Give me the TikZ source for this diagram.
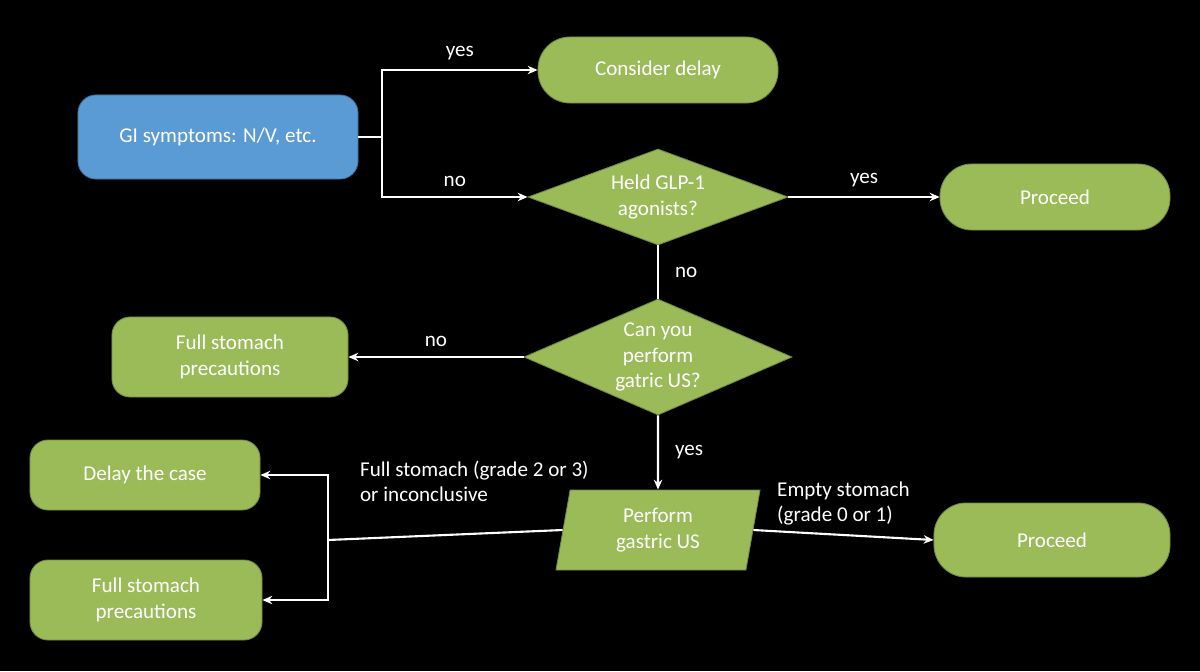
\documentclass[tikz,border=0pt]{standalone}
\usepackage{fontspec}
\setmainfont{Carlito}
\usetikzlibrary{shapes.geometric,arrows.meta,positioning}
\definecolor{leaf}{HTML}{9BBB59}
\definecolor{leafline}{HTML}{71893F}
\definecolor{sky}{HTML}{5B9BD5}
\definecolor{skyline}{HTML}{41719C}
\begin{document}
\begin{tikzpicture}[x=0.025cm,y=-0.025cm,semithick,font=\fontsize{15}{18}\selectfont]

		% Styles for the boxes
		\tikzstyle{box}=[rectangle,rounded corners=0.45cm,draw=leafline,fill=leaf,text=white,align=center,minimum width=5.9cm,minimum height=2cm]
		\tikzstyle{pill}=[box,rounded corners=0.8cm,minimum width=6cm,minimum height=1.65cm]
		\tikzstyle{question}=[diamond,aspect=2.5,inner sep=0pt,draw=leafline,fill=leaf,text=white,align=center]
		\tikzstyle{task}=[trapezium,trapezium left angle=75,trapezium right angle=105,trapezium stretches body,draw=leafline,fill=leaf,text=white,align=center,minimum width=5.1cm,minimum height=2cm]
		\tikzstyle{link}=[white,line width=1.5pt]
		\tikzstyle{go}=[link,-{Stealth[length=7pt,width=6pt]}]
		\tikzstyle{tag}=[text=white,align=left]

		% Background
		\fill[black] (0,0) rectangle (1200,671);
		\useasboundingbox (0,0) rectangle (1200,671);

		% Nodes
		\node[box,fill=sky,draw=skyline,minimum width=7cm,minimum height=2.1cm] (gi) at (218,137) {GI symptoms: N/V, etc.};
		\node[pill] (delay) at (658,70) {Consider delay};
		\node[question,minimum width=6.5cm,minimum height=2.4cm] (glp) at (658,197) {Held GLP-1\\agonists?};
		\node[pill,minimum width=5.75cm] (go1) at (1055,197) {Proceed};
		\node[question,minimum width=6.7cm,minimum height=2.9cm] (us) at (658,357) {Can you\\perform\\gatric US?};
		\node[box] (full1) at (230,357) {Full stomach\\precautions};
		\node[task] (scan) at (658,530) {Perform\\gastric US};
		\node[pill,minimum width=5.9cm,minimum height=1.85cm] (go2) at (1052,540) {Proceed};
		\node[box,minimum width=5.75cm,minimum height=1.75cm] (case) at (145,475) {Delay the case};
		\node[box,minimum width=5.8cm] (full2) at (146,600) {Full stomach\\precautions};

		\coordinate (fork) at (382,137);
		\coordinate (split) at (328,540);

		% Connectors
		\draw[link] (gi.east) -- (fork);
		\draw[go] (fork) |- (delay.west) node[tag,pos=0.75,above=3pt] {yes};
		\draw[go] (fork) |- (glp.west) node[tag,pos=0.75,above=3pt] {no};
		\draw[go] (glp.east) -- (go1.west) node[tag,midway,above=3pt] {yes};
		\draw[link] (glp.south) -- (us.north) node[tag,midway,right=8pt] {no};
		\draw[go] (us.west) -- (full1.east) node[tag,midway,above=3pt] {no};
		\draw[go] (us.south) -- (scan.north) node[tag,midway,right=8pt] {yes};
		\draw[go] (scan.east) -- (go2.west) node[tag,midway,above=3pt] {Empty stomach\\(grade 0 or 1)};
		\draw[link] (scan.west) -- (split);
		\draw[go] (split) |- (case.east);
		\draw[go] (split) |- (full2.east);
		\node[tag,anchor=north west] (why) at (355,456) {Full stomach (grade 2 or 3)\\or inconclusive};

	\end{tikzpicture}
\end{document}
